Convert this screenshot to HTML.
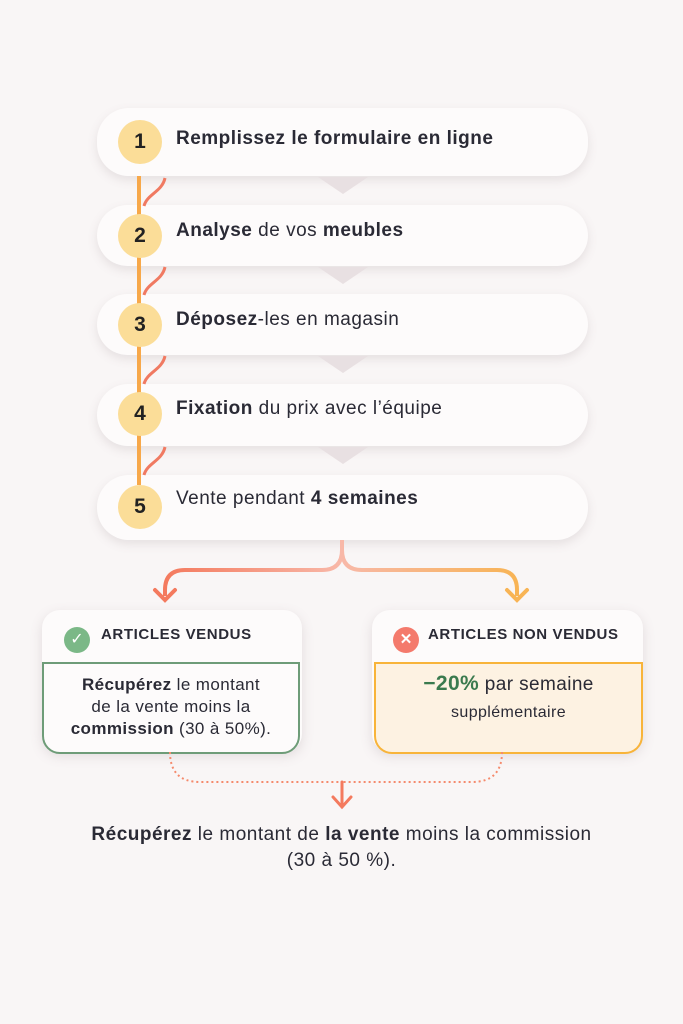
<!DOCTYPE html>
<html><head><meta charset="utf-8"><style>
body{margin:0;width:683px;height:1024px;background:#f9f6f6;font-family:"Liberation Sans",sans-serif;position:relative;overflow:hidden;color:#2a2a35}
.box{position:absolute;left:97px;width:491px;background:#fdfbfb;border-radius:32px;box-shadow:0 4px 10px rgba(120,100,110,.15)}
.c{position:absolute;left:118px;width:44px;height:44px;border-radius:50%;background:#fbdd98;font-weight:bold;font-size:21px;text-align:center;line-height:44px;color:#222;z-index:3}
.t{position:absolute;left:176px;font-size:19px;letter-spacing:0.5px;z-index:3}
.card{position:absolute;top:610px;height:142px;width:260px;border-radius:18px;background:#fdfbfb;box-shadow:0 4px 12px rgba(120,100,110,.18)}
.hd{position:absolute;top:626px;font-weight:bold;font-size:15px;letter-spacing:0.6px;z-index:3}
.body{position:absolute;top:662px;height:88px;border-radius:0 0 18px 18px;border:2px solid;text-align:center;font-size:17px;line-height:22px;letter-spacing:0.4px}
</style></head><body>
<div class="box" style="top:108px;height:68px"></div>
<div class="box" style="top:205px;height:61px"></div>
<div class="box" style="top:294px;height:61px"></div>
<div class="box" style="top:384px;height:62px"></div>
<div class="box" style="top:475px;height:65px"></div>
<svg width="683" height="1024" style="position:absolute;left:0;top:0;z-index:2">
<g fill="#e8e0e2"><path d="M318 177h50l-25 17z"/><path d="M318 267h50l-25 17z"/><path d="M318 356h50l-25 17z"/><path d="M318 447h50l-25 17z"/></g>
<line x1="139" y1="176" x2="139" y2="485" stroke="#f7a84a" stroke-width="4"/>
<g fill="none" stroke="#f07a62" stroke-width="3"><path d="M165 178c-3 14-18 16-21 28"/><path d="M165 267c-3 14-18 16-21 28"/><path d="M165 356c-3 14-18 16-21 28"/><path d="M165 447c-3 14-18 16-21 28"/></g>
<defs><linearGradient id="g" x1="0" x2="1"><stop offset="0" stop-color="#f47a5e"/><stop offset=".5" stop-color="#f8b8a8"/><stop offset="1" stop-color="#f8b455"/></linearGradient></defs>
<path d="M342 540v10q0 20-20 20H185q-20 0-20 20v6M342 550q0 20 20 20h135q20 0 20 20v6" fill="none" stroke="url(#g)" stroke-width="4"/>
<path d="M155 590l10 10 10-10" fill="none" stroke="#f47a5e" stroke-width="4" stroke-linecap="round"/>
<path d="M507 590l10 10 10-10" fill="none" stroke="#f8b455" stroke-width="4" stroke-linecap="round"/>
<path d="M170 752q0 30 30 30h142M502 752q0 30-30 30H342" fill="none" stroke="#f58a6c" stroke-width="2" stroke-dasharray="2 3"/>
<path d="M342 782v25M333 797l9 10 9-10" fill="none" stroke="#f47a5e" stroke-width="3" stroke-linecap="round"/>
</svg>
<div class="c" style="top:120px">1</div><div class="t" style="top:128px;font-weight:bold">Remplissez le formulaire en ligne</div>
<div class="c" style="top:214px">2</div><div class="t" style="top:220px"><b>Analyse</b> de vos <b>meubles</b></div>
<div class="c" style="top:303px">3</div><div class="t" style="top:309px"><b>Déposez</b>-les en magasin</div>
<div class="c" style="top:392px">4</div><div class="t" style="top:398px"><b>Fixation</b> du prix avec l’équipe</div>
<div class="c" style="top:485px">5</div><div class="t" style="top:488px">Vente pendant <b>4 semaines</b></div>
<div class="card" style="left:42px"></div>
<div class="card" style="left:372px;width:271px"></div>
<div style="position:absolute;left:64px;top:627px;width:26px;height:26px;border-radius:50%;background:#7bb887;color:#fff;text-align:center;line-height:26px;font-size:16px;z-index:3">✓</div>
<div class="hd" style="left:101px">ARTICLES VENDUS</div>
<div style="position:absolute;left:393px;top:627px;width:26px;height:26px;border-radius:50%;background:#f47a6c;color:#fff;text-align:center;line-height:26px;font-size:15px;font-weight:bold;z-index:3">✕</div>
<div class="hd" style="left:428px">ARTICLES NON VENDUS</div>
<div class="body" style="left:42px;width:254px;border-color:#6e9c78;background:#fdfbfb"><div style="padding-top:10px"><b>Récupérez</b> le montant<br>de la vente moins la<br><b>commission</b> (30 à 50%).</div></div>
<div class="body" style="left:374px;width:265px;border-color:#f8b43a;background:#fdf2e2"><div style="padding-top:9px;font-size:19px"><b style="color:#3a7a4e;font-size:21px">−20%</b> par semaine</div><div style="font-size:16px;margin-top:6px">supplémentaire</div></div>
<div style="position:absolute;left:0;width:683px;top:822px;text-align:center;font-size:19px;letter-spacing:0.5px;line-height:26px"><b>Récupérez</b> le montant de <b>la vente</b> moins la commission<br>(30 à 50 %).</div>
</body></html>
